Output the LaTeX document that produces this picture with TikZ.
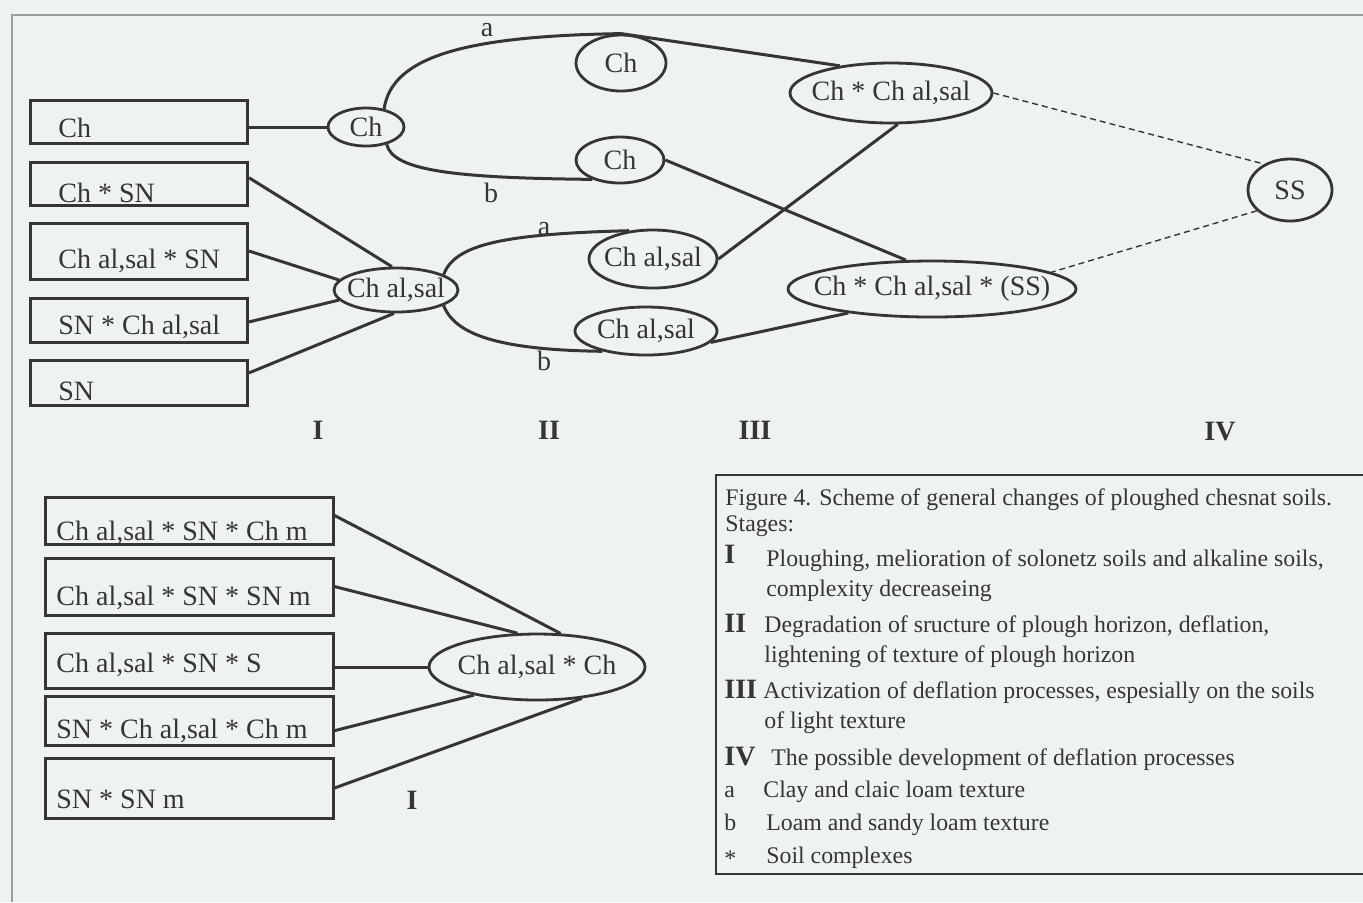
\documentclass[tikz,border=0pt]{standalone}
\usepackage{fontspec}
\setmainfont{Liberation Serif}
\usetikzlibrary{shapes.geometric}
\definecolor{bg}{HTML}{EEF3F1}
\definecolor{ink}{HTML}{353535}
\definecolor{frame}{HTML}{9A9E9C}
\tikzset{
  box/.style={draw=ink, line width=1.5pt, rectangle, inner sep=0pt},
  oval/.style={draw=ink, line width=1.4pt, ellipse, inner sep=0pt, text=ink, font=\fontsize{14}{16}\selectfont},
  conn/.style={draw=ink, line width=1.5pt},
  dconn/.style={draw=ink, line width=0.7pt, dash pattern=on 3pt off 2pt},
  btxt/.style={anchor=base west, inner sep=0pt, text=ink, font=\fontsize{14}{16}\selectfont},
  lbl/.style={inner sep=0pt, text=ink, font=\fontsize{14}{16}\selectfont},
  stage/.style={inner sep=0pt, text=ink, font=\fontsize{14}{16}\selectfont\bfseries},
  leg/.style={anchor=base west, inner sep=0pt, text=ink, font=\fontsize{11.9}{13}\selectfont},
  legb/.style={anchor=base west, inner sep=0pt, text=ink, font=\fontsize{14}{16}\selectfont\bfseries},
}
\begin{document}
\begin{tikzpicture}[x=0.5pt,y={(0pt,-0.5pt)}]
\useasboundingbox (0,0) rectangle (1363,902);
\fill[bg] (0,0) rectangle (1363,902);
% frame
\draw[frame, line width=0.6pt] (12,902) -- (12,15) -- (1363,15);
% legend frame
\draw[ink, line width=0.8pt] (1363,475) -- (716,475) -- (716,874) -- (1363,874);

% ---------- top part: boxes ----------
\node[box, minimum width=108.5pt, minimum height=21.5pt] (b1) at (139,121.5) {};
\node[box, minimum width=108.5pt, minimum height=21.5pt] (b2) at (139,183.5) {};
\node[box, minimum width=108.5pt, minimum height=28pt]   (b3) at (139,251) {};
\node[box, minimum width=108.5pt, minimum height=22pt]   (b4) at (139,320) {};
\node[box, minimum width=108.5pt, minimum height=22.5pt] (b5) at (139,382.5) {};
\node[btxt] (t1) at (58,137) {Ch};
\node[btxt] (t2) at (58,202) {Ch * SN};
\node[btxt] (t3) at (58,268) {Ch al,sal * SN};
\node[btxt] (t4) at (58,334) {SN * Ch al,sal};
\node[btxt] (t5) at (58,400) {SN};

% ---------- top part: ellipses ----------
\node[oval, minimum width=38pt, minimum height=19pt] (Ch0) at (366,127) {\makebox[0pt]{Ch}};
\node[oval, minimum width=45pt, minimum height=28pt] (ChA) at (621,63) {\makebox[0pt]{Ch}};
\node[oval, minimum width=44pt, minimum height=23pt] (ChB) at (620,160) {\makebox[0pt]{Ch}};
\node[oval, minimum width=62pt, minimum height=22pt] (CS0) at (396,290) {\makebox[0pt]{Ch al,sal}};
\node[oval, minimum width=64pt, minimum height=29pt] (CSA) at (653,259) {\makebox[0pt]{Ch al,sal}};
\node[oval, minimum width=71pt, minimum height=24pt] (CSB) at (646,331) {\makebox[0pt]{Ch al,sal}};
\node[oval, minimum width=101pt, minimum height=30pt] (X1) at (891,93) {\makebox[0pt]{Ch * Ch al,sal}};
\node[oval, minimum width=144pt, minimum height=28pt] (X2) at (932,289) {\makebox[0pt]{Ch * Ch al,sal * (SS)}};
\node[oval, minimum width=42pt, minimum height=31pt] (SS) at (1290,190) {\makebox[0pt]{SS}};

% branch labels
\node[lbl] (la1) at (487,30) {a};
\node[lbl] (lb1) at (491,193) {b};
\node[lbl] (la2) at (544,229) {a};
\node[lbl] (lb2) at (544,361) {b};

% ---------- top part: connectors ----------
\draw[conn] (b1.east |- Ch0.west) -- (Ch0.west);
\draw[conn] (Ch0.45) .. controls (392,55) and (470,36) .. (ChA.north) -- (X1.152);
\draw[conn] (Ch0.-40) .. controls (393,170) and (450,178) .. (ChB.215);
\draw[conn] (ChB.east) -- (X2.132);
\draw[conn] (b2.3) -- (CS0.100);
\draw[conn] (b3.east) -- (CS0.170);
\draw[conn] (b4.-1) -- (CS0.190);
\draw[conn] (b5.5) -- (CS0.265);
\draw[conn] (CS0.18) .. controls (455,245) and (500,234) .. (CSA.130);
\draw[conn] (CS0.-18) .. controls (455,335) and (500,350) .. (CSB.205);
\draw[conn] (CSA.east) -- (X1.-78);
\draw[conn] (CSB.-10) -- (X2.196);
\draw[dconn] (X1.east) -- (SS.135);
\draw[dconn] (SS.212) -- (X2.8);

% stage labels
\node[stage] (s1) at (318,430) {I};
\node[stage] (s2) at (549,430) {II};
\node[stage] (s3) at (755,430) {III};
\node[stage] (s4) at (1220,432) {IV};

% ---------- bottom part ----------
\node[box, minimum width=144pt, minimum height=23.5pt] (c1) at (189,520.5) {};
\node[box, minimum width=144pt, minimum height=28.5pt] (c2) at (189,586.5) {};
\node[box, minimum width=144pt, minimum height=27.5pt] (c3) at (189,660.5) {};
\node[box, minimum width=144pt, minimum height=24.5pt] (c4) at (189,720.5) {};
\node[box, minimum width=144pt, minimum height=30pt]   (c5) at (189,788) {};
\node[btxt] (u1) at (56,540) {Ch al,sal * SN * Ch m};
\node[btxt] (u2) at (56,605) {Ch al,sal * SN * SN m};
\node[btxt] (u3) at (56,672) {Ch al,sal * SN * S};
\node[btxt] (u4) at (56,738) {SN * Ch al,sal * Ch m};
\node[btxt] (u5) at (56,808) {SN * SN m};
\node[oval, minimum width=108pt, minimum height=33pt] (E) at (537,667) {\makebox[0pt]{Ch al,sal * Ch}};
\draw[conn] (c1.2) -- (E.55);
\draw[conn] (c2.east) -- (E.120);
\draw[conn] (c3.east |- E.west) -- (E.west);
\draw[conn] (c4.-4) -- (E.204);
\draw[conn] (c5.east) -- (E.-35);
\node[stage] (s5) at (412,800) {I};

% ---------- legend ----------
\node[leg] (g0) at (725,505) {Figure 4. Scheme of general changes of ploughed chesnat soils.};
\node[leg] (g1) at (725,531) {Stages:};
\node[legb] (n1) at (724,563) {I};
\node[leg] (g2) at (766,566) {Ploughing, melioration of solonetz soils and alkaline soils,};
\node[leg] (g3) at (766,596) {complexity decreaseing};
\node[legb] (n2) at (724,632) {II};
\node[leg] (g4) at (764,632) {Degradation of sructure of plough horizon, deflation,};
\node[leg] (g5) at (764,662) {lightening of texture of plough horizon};
\node[legb] (n3) at (724,698) {III};
\node[leg] (g6) at (763,698) {Activization of deflation processes, espesially on the soils};
\node[leg] (g7) at (764,728) {of light texture};
\node[legb] (n4) at (724,765) {IV};
\node[leg] (g8) at (771,765) {The possible development of deflation processes};
\node[leg] (n5) at (724,797) {a};
\node[leg] (g9) at (763,797) {Clay and claic loam texture};
\node[leg] (n6) at (724,830) {b};
\node[leg] (g10) at (766,830) {Loam and sandy loam texture};
\node[leg] (n7) at (724,866) {*};
\node[leg] (g11) at (766,863) {Soil complexes};
\end{tikzpicture}
\end{document}
